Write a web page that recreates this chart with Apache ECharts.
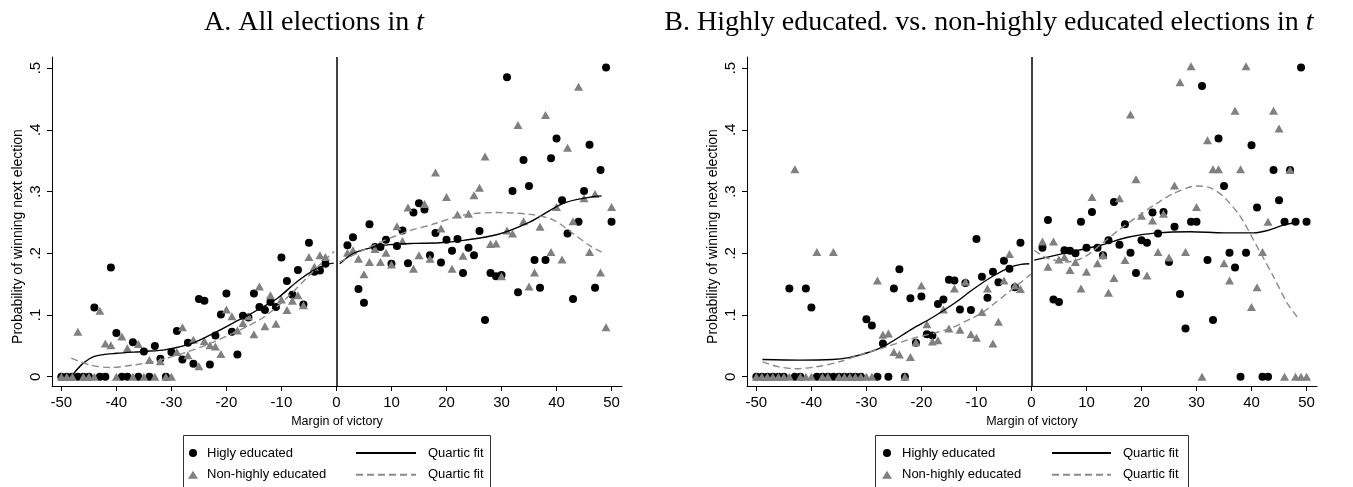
<!DOCTYPE html>
<html><head><meta charset="utf-8">
<script src="https://cdn.jsdelivr.net/npm/echarts@6/dist/echarts.min.js"></script>
<style>html,body{margin:0;padding:0;background:#fff}#c{width:1353px;height:487px}</style>
</head><body><div id="c"></div>
<script>
// ---- categories (margin of victory bins) ----
const xLeft = [-50,-49,-48,-47,-46,-45,-44,-43,-42,-41,-40,-39,-38,-37,-36,-35,-34,-33,-32,-31,-30,-29,-28,-27,-26,-25,-24,-23,-22,-21,-20,-19,-18,-17,-16,-15,-14,-13,-12,-11,-10,-9,-8,-7,-6,-5,-4,-3,-2];
const xRight = [2,3,4,5,6,7,8,9,10,11,12,13,14,15,16,17,18,19,20,21,22,23,24,25,26,27,28,29,30,31,32,33,34,35,36,37,38,39,40,41,42,43,44,45,46,47,48,49,50];

// ---- tick labels ----
const xTicks = [-50,-40,-30,-20,-10,0,10,20,30,40,50];
const yTicks = [0,0.1,0.2,0.3,0.4,0.5];

// ---- Panel A: all elections ----
const hiA_left = [0,0,0,0,0,0,.112,0,0,.177, .071,0,0,.056,0,.041,0,.050,.029,0, .040,.074,.028,.055,.021,.126,.123,.020,.067,.101, .135,.073,.036,.099,.096,.135,.113,.108,.121,.113, .193,.155,.133,.173,.117,.217,.170,.172,.183];
const hiA_right = [.213,.226,.142,.120,.247,.210,.210,.222,.183,.212, .237,.184,.266,.281,.271,.197,.233,.185,.222,.204, .223,.168,.209,.197,.236,.092,.168,.163,.165,.485, .301,.137,.351,.309,.189,.144,.189,.354,.386,.286, .232,.126,.251,.301,.376,.144,.335,.501,.251];
const nonA_left = [0,0,0,.073,0,0,0,.107,.054,.051, 0,.065,.046,0,.053,0,.027,0,.025,0, 0,.040,.080,.035,.060,.017,.058,.051,.049,.037, .109,.098,.075,.087,.098,.069,.146,.082,.132,.086, .125,.108,.123,.132,.116,.194,.178,.197,.194];
const nonA_right = [.201,.205,.191,.166,.186,.207,.186,.201,.182,.244, .220,.274,.175,.197,.280,.191,.331,.240,.291,.175, .263,.196,.264,.294,.306,.357,.215,.216,.163,.237, .232,.408,.252,.146,.169,.243,.424,.202,.275,.190, .371,.252,.470,.289,.202,.296,.169,.080,.275];
// quartic fits [margin, probability]
const fitHiA_L = [[-47.7,.006],[-46,.022],[-44,.033],[-40,.038],[-35,.041],[-31,.044],[-26,.055],[-22.4,.070],[-18.8,.087],[-16,.100],[-13,.115],[-10.6,.128],[-6.9,.156],[-3.6,.175],[-1.7,.182],[-0.5,.184]];
const fitHiA_R = [[0.6,.183],[3.1,.200],[6.7,.210],[9.7,.214],[14,.216],[18.8,.217],[23.1,.221],[29.1,.230],[35.2,.251],[41.2,.281],[46.1,.291],[48.2,.293]];
const fitNonA_L = [[-48.2,.030],[-44.8,.019],[-41.2,.015],[-36.9,.019],[-32.1,.027],[-27.2,.040],[-22.4,.056],[-17.5,.076],[-14,.092],[-11.5,.108],[-8.5,.132],[-5.4,.160],[-2.5,.186],[-0.4,.203]];
const fitNonA_R = [[0.6,.186],[6.7,.213],[12.8,.235],[17.5,.247],[23.1,.262],[29.1,.266],[35.2,.263],[39.4,.254],[43,.232],[46.1,.212],[48.2,.202]];

// ---- Panel B: highly vs non-highly educated ----
const hiB_left = [0,0,0,0,0,0,.143,0,0,.143, .112,0,0,0,0,0,0,0,0,0, .093,.083,0,.054,0,.143,.174,0,.127,.055, .130,.069,.067,.118,.125,.157,.156,.109,.152,.108, .223,.162,.128,.170,.153,.188,.175,.145,.217];
const hiB_right = [.209,.254,.125,.121,.205,.204,.200,.251,.209,.267, .209,.197,.221,.283,.214,.247,.201,.168,.221,.217, .266,.232,.267,.186,.243,.134,.078,.251,.251,.471, .189,.092,.386,.309,.201,.177,0,.201,.375,.274, 0,0,.335,.286,.251,.335,.251,.501,.251];
const nonB_left = [0,0,0,0,0,0,0,.336,0,0, 0,.202,0,0,.202,0,0,0,0,0, 0,0,.156,.068,.070,.040,.036,0,.032,.056, .148,.085,.057,.059,.109,.078,.143,.076,.154,.069, .063,.105,.143,.054,.089,.156,.199,.148,.142];
const nonB_right = [.219,.178,.219,.190,.194,.173,.186,.143,.170,.291, .184,.197,.136,.160,.289,.189,.425,.320,.261,.164, .253,.202,.264,.193,.310,.477,.202,.503,.275,0, .383,.336,.336,.184,.156,.431,.336,.503,.113,.145, .202,.251,.431,.402,0,.335,0,0,0];
const fitHiB_L = [[-48.9,.028],[-42.2,.027],[-36.2,.028],[-33.2,.031],[-30.1,.038],[-26.5,.051],[-21.6,.078],[-18,.096],[-14,.119],[-10.4,.143],[-6.8,.164],[-3.7,.178],[-1.9,.182],[-0.4,.183]];
const fitHiB_R = [[0.5,.189],[6.5,.201],[12.6,.213],[17.5,.226],[22.8,.233],[28.9,.235],[35,.233],[40.4,.233],[42.9,.237],[45.9,.246],[47.7,.249]];
const fitNonB_L = [[-48.9,.024],[-45.9,.016],[-42.8,.013],[-39.2,.016],[-35,.024],[-31.3,.035],[-26.5,.048],[-21.6,.062],[-15.2,.077],[-11,.094],[-8.9,.104],[-3.75,.140],[-0.1,.166]];
const fitNonB_R = [[0.5,.205],[2.9,.192],[6.5,.186],[9.6,.194],[12.6,.214],[16.2,.240],[20,.264],[22.8,.281],[25.9,.297],[30,.309],[32.5,.306],[35,.291],[38,.259],[41,.211],[44,.162],[46.5,.119],[48.3,.097]];

const SANS = 'Liberation Sans, Arial, Helvetica, sans-serif';
const SERIF = 'Liberation Serif, Times New Roman, serif';
const xAll = xLeft.concat(xRight);
const zip = (xs, ys) => xs.map((x, i) => [x, ys[i]]);

const grids = [
  {left: 52, top: 57, width: 570, height: 329},
  {left: 747, top: 57, width: 570, height: 329}
];

function xAxisCfg(i) {
  return {
    gridIndex: i, type: 'value', min: -51.7, max: 51.9,
    name: 'Margin of victory', nameLocation: 'middle', nameGap: 28,
    nameTextStyle: {fontFamily: SANS, fontSize: 12.5, color: '#000'},
    axisLine: {show: true, onZero: false, lineStyle: {color: '#000', width: 1}},
    axisTick: {show: true, length: 5, customValues: xTicks, lineStyle: {color: '#000'}},
    axisLabel: {customValues: xTicks, fontFamily: SANS, fontSize: 15, color: '#000', margin: 9},
    splitLine: {show: false}
  };
}
function yAxisCfg(i) {
  return {
    gridIndex: i, type: 'value', min: -0.015, max: 0.518,
    name: 'Probability of winning next election', nameLocation: 'middle', nameGap: 27, nameRotate: 90,
    nameTextStyle: {fontFamily: SANS, fontSize: 14, color: '#000', padding: [0, 30, 0, 0]},
    axisLine: {show: true, onZero: false, lineStyle: {color: '#000', width: 1}},
    axisTick: {show: true, length: 5, customValues: yTicks, lineStyle: {color: '#000'}},
    axisLabel: {customValues: yTicks, rotate: 90, fontFamily: SANS, fontSize: 15, color: '#000', margin: 9,
      formatter: v => Math.abs(v) < 1e-9 ? '0' : '.' + Math.round(v * 10)},
    splitLine: {show: false}
  };
}

function panel(i, hiName, hiL, hiR, nonL, nonR, fHL, fHR, fNL, fNR) {
  const solid = {color: '#000', width: 1.4, type: 'solid'};
  const dashed = {color: '#8a8a8a', width: 1.4, type: [7, 4]};
  const base = {xAxisIndex: i, yAxisIndex: i, silent: true};
  return [
    Object.assign({}, base, {type: 'scatter', name: hiName, data: zip(xAll, hiL.concat(hiR)),
      symbol: 'circle', symbolSize: 8, itemStyle: {color: '#000', opacity: 1}, z: 2,
      markLine: {silent: true, symbol: ['none', 'none'], label: {show: false},
        lineStyle: {color: '#000', width: 1.5, type: 'solid'}, data: [{xAxis: 0}]}}),
    Object.assign({}, base, {type: 'scatter', name: 'Non-highly educated', data: zip(xAll, nonL.concat(nonR)),
      symbol: 'triangle', symbolSize: [9, 8], itemStyle: {color: '#808080', opacity: 1}, z: 3}),
    Object.assign({}, base, {type: 'line', name: 'Quartic fit', data: fHL, smooth: 0.3, symbol: 'none', itemStyle: {color: '#000'}, lineStyle: solid, z: 4}),
    Object.assign({}, base, {type: 'line', name: 'Quartic fit', data: fHR, smooth: 0.3, symbol: 'none', itemStyle: {color: '#000'}, lineStyle: solid, z: 4}),
    Object.assign({}, base, {type: 'line', name: 'Quartic fit\u00a0', data: fNL, smooth: 0.3, symbol: 'none', itemStyle: {color: '#8a8a8a'}, lineStyle: dashed, z: 4}),
    Object.assign({}, base, {type: 'line', name: 'Quartic fit\u00a0', data: fNR, smooth: 0.3, symbol: 'none', itemStyle: {color: '#8a8a8a'}, lineStyle: dashed, z: 4})
  ];
}

const legText = pad => ({fontFamily: SANS, fontSize: 13, color: '#000', lineHeight: 14, padding: [0, 0, 0, pad]});
const legBase = {orient: 'vertical', top: 446, itemGap: 7.7, selectedMode: false, padding: 0};

const option = {
  animation: false,
  backgroundColor: '#fff',
  grid: grids,
  xAxis: [xAxisCfg(0), xAxisCfg(1)],
  yAxis: [yAxisCfg(0), yAxisCfg(1)],
  legend: [
    Object.assign({}, legBase, {left: 188, data: ['Higly educated', 'Non-highly educated'], itemWidth: 10, itemHeight: 8, itemStyle: {opacity: 1}, textStyle: legText(4)}),
    Object.assign({}, legBase, {left: 355, data: ['Quartic fit', 'Quartic fit\u00a0'], itemWidth: 60, itemHeight: 8, itemStyle: {opacity: 0}, textStyle: legText(7)}),
    Object.assign({}, legBase, {left: 882, data: ['Highly educated', 'Non-highly educated'], itemWidth: 10, itemHeight: 8, itemStyle: {opacity: 1}, textStyle: legText(5)}),
    Object.assign({}, legBase, {left: 1051, data: ['Quartic fit', 'Quartic fit\u00a0'], itemWidth: 59, itemHeight: 8, itemStyle: {opacity: 0}, textStyle: legText(7)})
  ],
  graphic: [
    {type: 'rect', shape: {x: 183.5, y: 435.5, width: 307, height: 60}, style: {fill: 'none', stroke: '#333', lineWidth: 1}, silent: true},
    {type: 'rect', shape: {x: 875.5, y: 435.5, width: 313, height: 60}, style: {fill: 'none', stroke: '#333', lineWidth: 1}, silent: true},
    {type: 'text', x: 314, y: 22.5, silent: true, style: {text: 'A. All elections in {i|t}', fontFamily: SERIF, fontSize: 28, fill: '#000', align: 'center', verticalAlign: 'middle',
      rich: {i: {fontFamily: SERIF, fontSize: 28, fontStyle: 'italic', fill: '#000'}}}},
    {type: 'text', x: 989, y: 22.5, silent: true, style: {text: 'B. Highly educated. vs. non-highly educated elections in {i|t}', fontFamily: SERIF, fontSize: 28, fill: '#000', align: 'center', verticalAlign: 'middle',
      rich: {i: {fontFamily: SERIF, fontSize: 28, fontStyle: 'italic', fill: '#000'}}}}
  ],
  series: [].concat(
    panel(0, 'Higly educated', hiA_left, hiA_right, nonA_left, nonA_right, fitHiA_L, fitHiA_R, fitNonA_L, fitNonA_R),
    panel(1, 'Highly educated', hiB_left, hiB_right, nonB_left, nonB_right, fitHiB_L, fitHiB_R, fitNonB_L, fitNonB_R)
  )
};
const chart = echarts.init(document.getElementById('c'), null, {renderer: 'canvas'});
chart.setOption(option);
</script>
</body></html>
